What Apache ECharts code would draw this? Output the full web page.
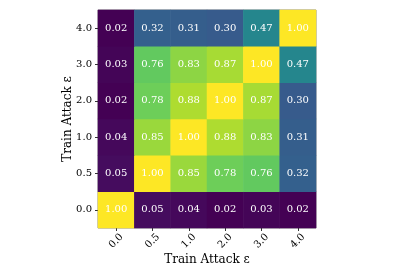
<!DOCTYPE html>
<html><head><meta charset="utf-8">
<script src="https://cdn.jsdelivr.net/npm/echarts@6/dist/echarts.min.js"></script>
<style>html,body{margin:0;padding:0;background:#fff}#c{width:415px;height:277px}</style>
</head><body><div id="c"></div>
<script>
const xCategories = ['0.0','0.5','1.0','2.0','3.0','4.0'];
const yCategories = ['0.0','0.5','1.0','2.0','3.0','4.0'];
const row00 = [1.00,0.05,0.04,0.02,0.03,0.02];
const row05 = [0.05,1.00,0.85,0.78,0.76,0.32];
const row10 = [0.04,0.85,1.00,0.88,0.83,0.31];
const row20 = [0.02,0.78,0.88,1.00,0.87,0.30];
const row30 = [0.03,0.76,0.83,0.87,1.00,0.47];
const row40 = [0.02,0.32,0.31,0.30,0.47,1.00];
const rows = [row00,row05,row10,row20,row30,row40];
const data = [];
rows.forEach((r,yi)=>r.forEach((v,xi)=>data.push([xi,yi,v])));
const font = 'DejaVu Serif';
const chart = echarts.init(document.getElementById('c'));
chart.setOption({
  animation:false,
  grid:{left:98,top:10,width:218,height:218,show:true,borderColor:'#888',borderWidth:1,backgroundColor:'transparent'},
  xAxis:{type:'category',data:xCategories,name:'Train Attack ε',nameLocation:'middle',nameGap:26,nameMoveOverlap:false,
    nameTextStyle:{fontFamily:font,fontSize:12,color:'#000'},
    axisLine:{show:false},axisTick:{show:true,alignWithLabel:true,length:3,lineStyle:{color:'#333'}},
    axisLabel:{rotate:45,align:'center',verticalAlign:'middle',fontFamily:font,fontSize:10,color:'#000',margin:13},splitLine:{show:false}},
  yAxis:{type:'category',data:yCategories,name:'Train Attack ε',nameLocation:'middle',nameGap:24,nameMoveOverlap:false,
    nameTextStyle:{fontFamily:font,fontSize:12,color:'#000'},
    axisLine:{show:false},axisTick:{show:true,alignWithLabel:true,length:3,lineStyle:{color:'#333'}},
    axisLabel:{fontFamily:font,fontSize:10,color:'#000',margin:6},splitLine:{show:false}},
  visualMap:{show:false,min:0.02,max:1.0,dimension:2,
    inRange:{color:['#440154','#482878','#3e4989','#31688e','#26828e','#1f9e89','#35b779','#6ece58','#b5de2b','#fde725']}},
  series:[{type:'heatmap',data:data,
    label:{show:true,color:'#fff',fontFamily:font,fontSize:10,formatter:p=>p.value[2].toFixed(2)},
    itemStyle:{borderWidth:0}}]
});
</script></body></html>
